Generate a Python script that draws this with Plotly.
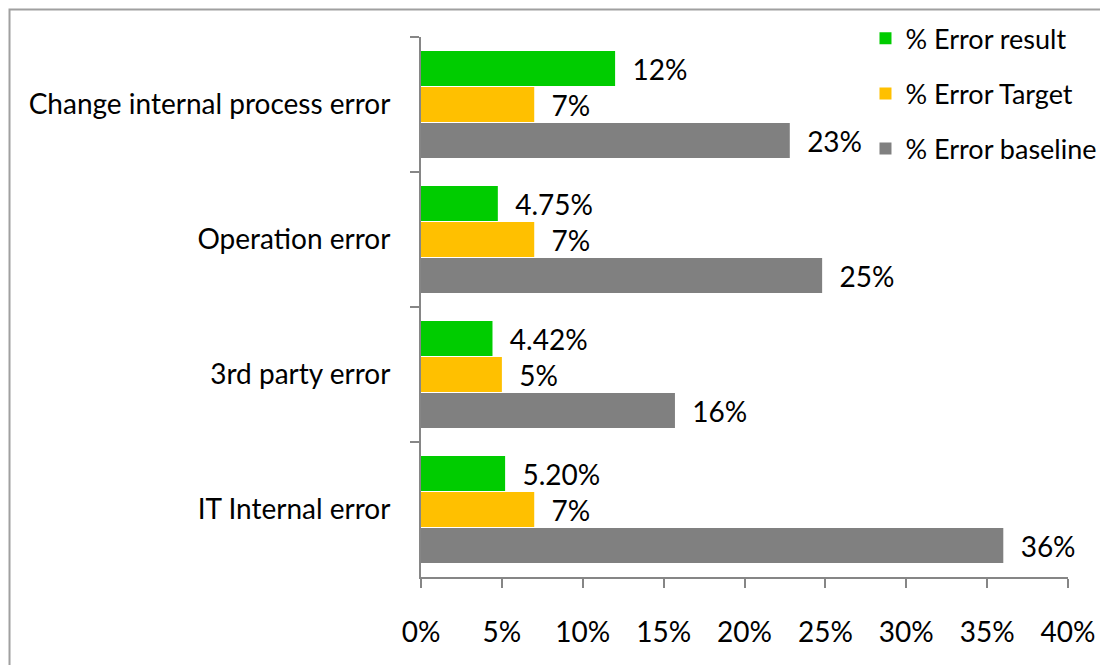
"""Error rates by category: result vs target vs baseline."""

import plotly.graph_objects as go

categories = [
    "Change internal process error",
    "Operation error",
    "3rd party error",
    "IT Internal error",
]
error_result = [0.12, 0.0475, 0.0442, 0.052]
error_result_labels = ["12%", "4.75%", "4.42%", "5.20%"]
error_target = [0.07, 0.07, 0.05, 0.07]
error_target_labels = ["7%", "7%", "5%", "7%"]
error_baseline = [0.228, 0.248, 0.157, 0.360]
error_baseline_labels = ["23%", "25%", "16%", "36%"]
x_ticks = [0, 0.05, 0.10, 0.15, 0.20, 0.25, 0.30, 0.35, 0.40]
x_tick_labels = ["0%", "5%", "10%", "15%", "20%", "25%", "30%", "35%", "40%"]

FONT = "Lato, Carlito, Calibri, sans-serif"
FONT_SIZE = 28
AXIS_GREY = "#868686"

series = [
    ("% Error result", error_result, error_result_labels, "#00CC00"),
    ("% Error Target", error_target, error_target_labels, "#FFC000"),
    ("% Error baseline", error_baseline, error_baseline_labels, "#808080"),
]

fig = go.Figure()
for i, (name, values, labels, color) in enumerate(series):
    fig.add_trace(
        go.Bar(
            name=name,
            y=categories,
            x=values,
            orientation="h",
            marker=dict(color=color, line=dict(width=0)),
            text=labels,
            texttemplate="  %{text}",
            textposition="outside",
            cliponaxis=False,
            textfont=dict(family=FONT, size=FONT_SIZE, color="#000000"),
            legendgroup=f"g{i}",
        )
    )

# page body adds an 8px offset, so the figure is drawn slightly smaller
fig.update_layout(
    width=1100,
    height=657,
    barmode="group",
    bargap=0.2,
    bargroupgap=0.03,
    paper_bgcolor="white",
    plot_bgcolor="white",
    margin=dict(l=413, r=40, t=29, b=88, autoexpand=False),
    font=dict(family=FONT, size=FONT_SIZE, color="#000000"),
    legend=dict(
        x=0.687,
        xanchor="left",
        y=1.042,
        yanchor="top",
        tracegroupgap=17,
        bgcolor="rgba(0,0,0,0)",
        font=dict(family=FONT, size=27),
    ),
    shapes=[
        dict(
            type="rect",
            xref="paper",
            yref="paper",
            x0=-0.636,
            x1=1.2,
            y0=-0.3,
            y1=1.051,
            line=dict(color="#A0A0A0", width=2),
            layer="below",
        )
    ],
)

fig.update_xaxes(
    range=[0, 0.40],
    tickvals=x_ticks,
    ticktext=x_tick_labels,
    showgrid=False,
    zeroline=False,
    showline=True,
    linecolor=AXIS_GREY,
    linewidth=2,
    ticks="outside",
    ticklen=9,
    tickwidth=2,
    tickcolor=AXIS_GREY,
    ticklabelstandoff=20,
    tickfont=dict(family=FONT, size=FONT_SIZE),
)
fig.update_yaxes(
    autorange="reversed",
    showgrid=False,
    showline=True,
    linecolor=AXIS_GREY,
    linewidth=2,
    ticks="outside",
    tickson="boundaries",
    ticklen=9,
    tickwidth=2,
    tickcolor=AXIS_GREY,
    ticklabelstandoff=23,
    tickfont=dict(family=FONT, size=FONT_SIZE),
)

fig.write_html("out.html")
